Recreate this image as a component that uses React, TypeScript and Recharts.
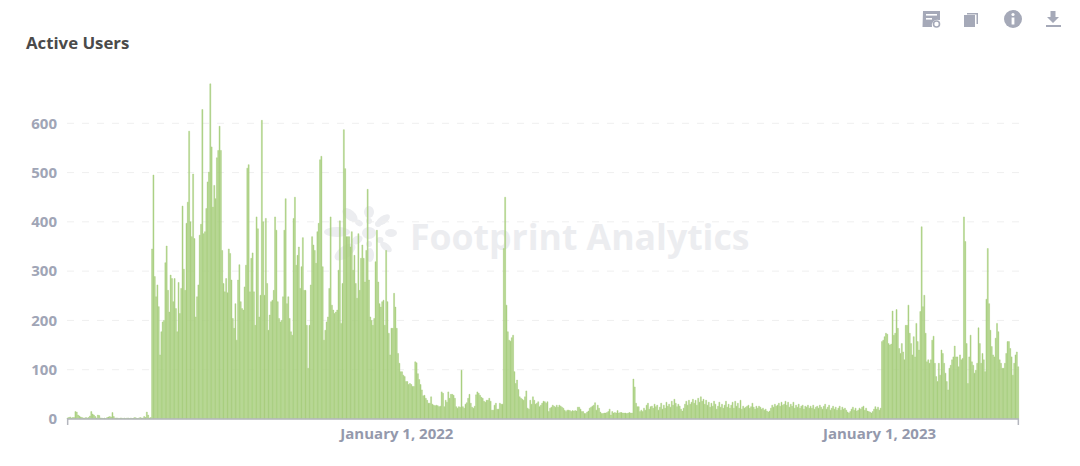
import React from "react";
import { BarChart, Bar, XAxis, YAxis, CartesianGrid } from "recharts";

const START_DATE = Date.UTC(2021, 3, 27);
const DAY = 86400000;
const TITLE = "Active Users";
const WATERMARK = "Footprint Analytics";
const Y_TICKS = [0, 100, 200, 300, 400, 500, 600];
const GRID_VALUES = [100, 200, 300, 400, 500, 600];
const LABELLED_DATES = ["January 1, 2022", "January 1, 2023"];

const quietStart = [
  2,3,4,2,3,3,15,14,8,6,
  4,3,2,2,3,2,3,6,15,10,
  8,5,2,8,7,2,2,1,2,1,
  3,4,5,4,13,5,2,2,2,1,
  2,2,1,2,1,2,2,1,2,1,
  2,3,2,1,2,3,2,2,5,3,
  14,8,2,3,
];
const launchPeak = [
  345,495,289,248,272,228,130,177,197,200,
  317,351,261,217,292,285,238,285,224,177,
  277,214,265,432,304,261,397,440,584,400,
  370,497,366,207,248,272,373,395,628,376,
  380,427,481,501,680,552,430,474,447,530,
  545,594,545,342,275,258,285,256,345,336,
  282,204,184,234,160,282,313,
];
const lateTwentyOne = [
  238,224,221,268,312,509,516,258,326,337,
  258,190,410,386,207,251,606,400,251,407,
  275,180,211,238,241,261,410,383,238,204,
  197,200,248,383,447,234,248,204,177,170,
  407,450,312,332,349,265,309,368,261,261,
  190,103,190,272,370,353,342,316,380,397,
  526,533,309,160,180,197,207,265,410,231,
  221,214,217,221,302,402,194,275,587,508,
  370,370,370,349,380,302,332,275,245,376,
  261,326,353,326,278,342,466,282,207,200,
  190,204,319,383,278,234,227,238,241,190,
  342,238,174,130,184,184,255,227,184,133,
  113,96,96,89,86,76,76,70,
];
const declineWithSpikes = [
  72,70,66,66,116,114,92,80,70,59,
  47,48,42,38,32,32,45,30,28,27,
  28,27,25,26,55,52,25,38,34,55,
  42,50,50,48,42,25,22,25,24,99,
  25,22,30,33,42,50,32,24,22,26,
  49,55,52,48,44,42,36,34,38,38,
  42,36,18,18,28,32,20,20,32,30,
  30,346,450,231,177,160,158,165,170,96,
  72,79,60,45,42,40,38,45,57,22,
  20,38,30,45,38,30,32,35,25,28,
  32,36,35,32,35,15,22,24,28,26,
  24,28,24,28,26,24,22,18,15,18,
  18,17,15,17,16,17,16,24,24,20,
  15,15,11,11,14,16,22,24,26,28,
  33,18,28,22,14,11,11,12,12,13,
  15,20,8,15,12,13,12,17,12,13,
  13,12,12,12,11,12,13,12,12,81,
  65,32,25,25,15,18,15,22,18,28,32,20,25,
];
const flatYear = [
  26,22,30,25,28,18,24,32,20,28,
  22,34,26,30,24,36,28,40,32,25,
  30,26,20,16,22,30,36,28,38,30,
  34,40,32,38,28,42,34,45,36,40,
  30,38,28,34,24,32,26,36,30,20,
  26,34,24,30,22,28,36,24,30,22,
  28,34,22,36,26,32,22,38,20,26,
  22,24,26,28,22,25,32,24,20,26,
  22,26,24,20,22,18,20,16,14,16,
  22,28,24,30,26,28,32,26,34,28,
  30,36,28,34,24,30,26,34,22,28,
  24,30,22,26,28,20,26,24,28,22,
  26,22,28,20,24,26,22,28,24,20,
  26,30,20,24,28,18,22,26,20,24,
  18,22,26,18,24,20,22,18,14,12,
  15,20,24,18,22,16,18,22,20,24,
  26,18,22,16,15,14,12,15,20,25,
  20,24,18,22,
];
const revival = [
  157,160,167,174,172,153,150,152,219,170,
  174,222,184,143,133,153,136,120,190,190,
  231,174,153,130,167,126,194,157,140,218,
  390,228,251,174,116,120,113,120,160,168,
  113,86,76,113,89,140,133,113,93,76,
  59,103,109,120,126,148,126,126,106,130,
  120,123,410,360,153,72,126,170,116,109,
  93,99,113,185,153,113,133,120,96,243,
  346,234,180,147,130,126,164,194,177,120,
  113,103,103,113,133,157,157,143,126,89,
  113,130,136,106,
];

const values = [...quietStart, ...launchPeak, ...lateTwentyOne, ...declineWithSpikes, ...flatYear, ...revival];
const dates = values.map((_, i) =>
  new Date(START_DATE + i * DAY).toLocaleDateString("en-US", { year: "numeric", month: "long", day: "numeric", timeZone: "UTC" })
);
const rows = values.map((users, i) => ({ date: dates[i], users }));
const X_TICKS = [dates[0], ...LABELLED_DATES, dates[dates.length - 1]];

const FONT = "'Open Sans', sans-serif";

function XTick(props: any) {
  const { x, y, payload } = props;
  if (LABELLED_DATES.includes(payload.value)) {
    return (
      <text x={x} y={y + 12} textAnchor="middle" fontFamily={FONT} fontSize={15} fontWeight={700} fill="#9499AC">
        {payload.value}
      </text>
    );
  }
  return <line x1={x} x2={x} y1={y - 8} y2={y - 2} stroke="#B4B6BE" strokeWidth={1.5} />;
}

function Logo() {
  const blobs = [
    [337, 232, 13, 5, 0], [350, 215, 9, 5, 40], [369, 212, 5, 6, 0], [383, 220, 8, 4, -35],
    [391, 233, 6, 4, 0], [386, 247, 7, 3.5, 40], [370, 255, 4, 7, 0], [345, 252, 12, 6, -35],
    [359, 223, 4, 3, 30], [369, 221, 3, 3, 0], [378, 224, 3, 3, 0], [369, 233, 7, 6, 0],
    [357, 240, 6, 4, -30], [380, 240, 3.5, 3, 0], [369, 244, 3, 3, 0],
  ];
  return (
    <g fill="#ECEDF0">
      {blobs.map(([cx, cy, rx, ry, r], i) => (
        <ellipse key={i} cx={cx} cy={cy} rx={rx} ry={ry} transform={`rotate(${r} ${cx} ${cy})`} />
      ))}
    </g>
  );
}

function Icons() {
  const c = "#A5A9B8";
  return (
    <g fill={c}>
      <path d="M923 11h17v9h-1.5a5.5 5.5 0 0 0-6.5 7h-9.5z" />
      <rect x={926} y={14} width={11} height={1.6} fill="#fff" />
      <rect x={926} y={18} width={6} height={1.6} fill="#fff" />
      <circle cx={936.5} cy={24} r={3} fill="none" stroke={c} strokeWidth={1.6} />
      <rect x={964} y={15} width={11} height={12} />
      <path d="M967 13h11v11h-1.5v-9.5H967z" />
      <circle cx={1013} cy={19} r={9} />
      <rect x={1011.6} y={17.5} width={2.8} height={7} fill="#fff" />
      <circle cx={1013} cy={14.5} r={1.6} fill="#fff" />
      <path d="M1050.5 11h5v6h3.5l-6 6-6-6h3.5z" />
      <rect x={1046} y={25} width={15} height={2} />
    </g>
  );
}

export default function App() {
  return (
    <div style={{ position: "absolute", left: 0, top: 0, width: 1080, height: 466, overflow: "hidden", background: "#fff" }}>
      <svg width={1080} height={466} style={{ position: "absolute", left: 0, top: 0 }}>
        <Logo />
        <text x={410} y={250} fontFamily={FONT} fontWeight={700} fontSize={35.6} fill="#ECEDF0">{WATERMARK}</text>
        <Icons />
        <text x={26} y={49} fontFamily={FONT} fontWeight={700} fontSize={16.8} fill="#4A4A4A">{TITLE}</text>
      </svg>
      <div style={{ position: "absolute", left: 0, top: 0 }}>
        <BarChart width={1080} height={466} data={rows} margin={{ top: 74, right: 61, bottom: 17, left: 0 }} barCategoryGap={0}>
          <CartesianGrid vertical={false} horizontalValues={GRID_VALUES} stroke="#EFEFEF" strokeDasharray="7 8" />
          <XAxis
            dataKey="date"
            ticks={X_TICKS}
            interval={0}
            tick={<XTick />}
            tickLine={false}
            axisLine={{ stroke: "#B4B6BE", strokeWidth: 1.5 }}
          />
          <YAxis
            width={67}
            domain={[0, 700]}
            ticks={Y_TICKS}
            tickLine={false}
            axisLine={false}
            tickMargin={4}
            tick={{ fontFamily: FONT, fontSize: 15, fontWeight: 700, fill: "#A0A5B6" }}
          />
          <Bar dataKey="users" fill="#A9CF80" stroke="#A9CF80" strokeWidth={0.45} barSize={1} isAnimationActive={false} />
        </BarChart>
      </div>
    </div>
  );
}
